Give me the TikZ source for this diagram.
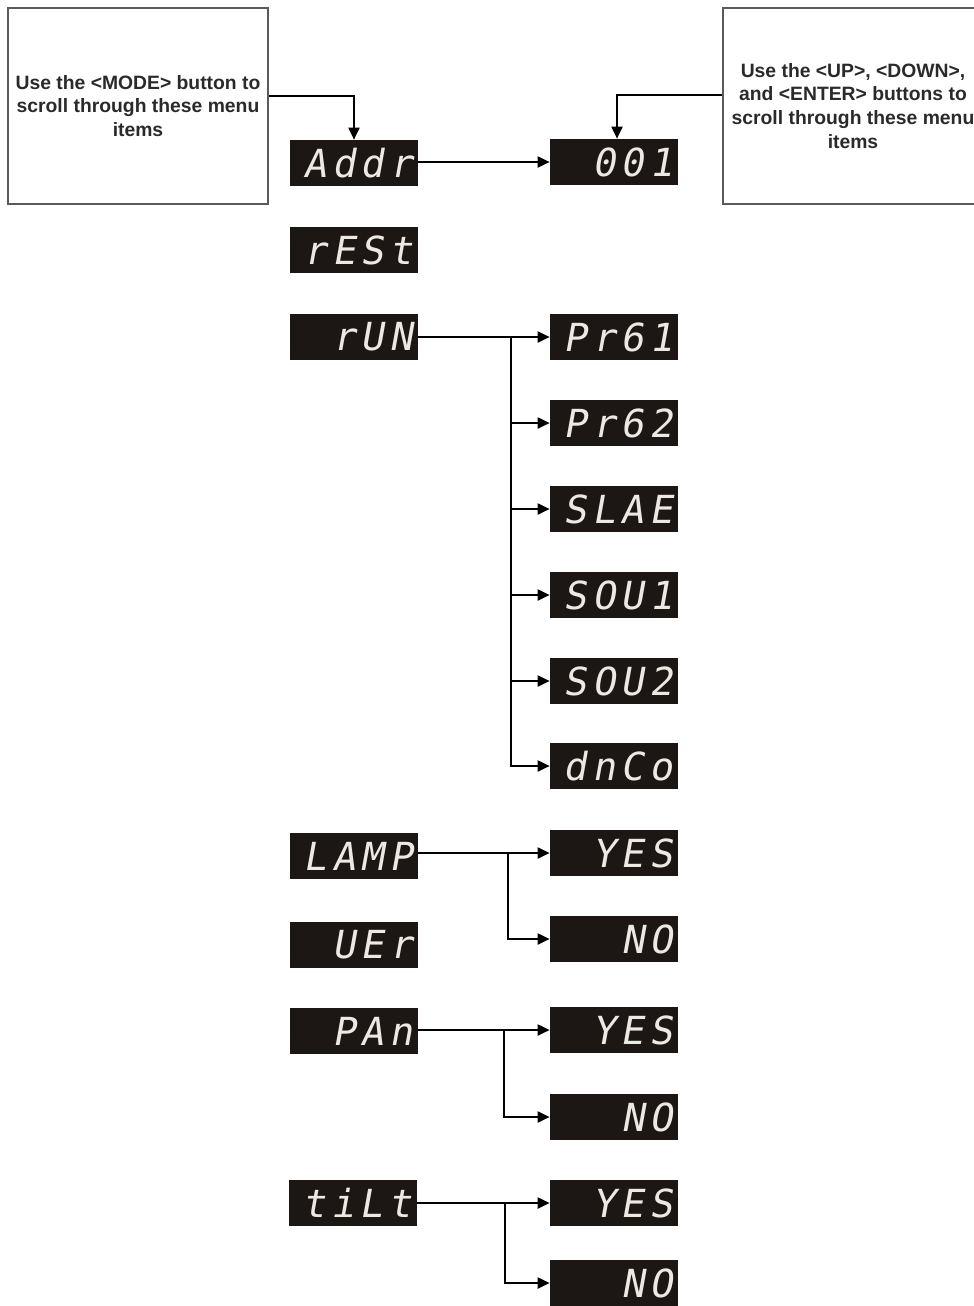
\documentclass[tikz,border=0pt]{standalone}
\usepackage{fontspec}
\setmainfont{Liberation Sans}
\newfontfamily\segfont[FakeSlant=0.18,LetterSpace=14]{DejaVu Sans Mono}
\usepackage{tikz}
\usetikzlibrary{arrows.meta,calc,positioning}
\definecolor{lcdbg}{HTML}{1C1614}
\definecolor{lcdtxt}{HTML}{ECE8E4}
\definecolor{noteink}{HTML}{2A2A2A}
\definecolor{noteframe}{HTML}{5A5A5A}

\begin{document}
\begin{tikzpicture}[x=0.02cm,y=-0.02cm,line cap=butt,line join=miter,
  >={Triangle[length=0.24cm,width=0.22cm]},
  lcd/.style={fill=lcdbg,text=lcdtxt,inner xsep=0.1cm,inner ysep=0pt,
    minimum width=2.56cm,minimum height=0.92cm,text width=2.36cm,align=right,
    font=\segfont\fontsize{22}{22}\selectfont},
  note/.style={draw=noteframe,line width=1.2pt,fill=white,text=noteink,align=center,
    font=\bfseries\fontsize{11}{13.6}\selectfont},
  link/.style={line width=1.1pt,draw=black}]
\path[use as bounding box] (0,0) rectangle (974,1306);
\clip (0,0) rectangle (974,1306);
\fill[white] (0,0) rectangle (974,1306);

% notes
\node[note,minimum width=5.2cm,minimum height=3.92cm] (mode) at (138,106)
  {Use the <MODE> button to\\scroll through these menu\\items};
\node[note,minimum width=5.2cm,minimum height=3.92cm] (updown) at (853,106)
  {Use the <UP>, <DOWN>,\\and <ENTER> buttons to\\scroll through these menu\\items};

% menu items (left column)
\node[lcd] (addr) at (354,163) {Addr};
\node[lcd] (rest) at (354,250) {rESt};
\node[lcd] (run)  at (354,337) {rUN};
\node[lcd] (lamp) at (354,856) {LAMP};
\node[lcd] (ver)  at (354,945) {UEr};
\node[lcd] (pan)  at (354,1031) {PAn};
\node[lcd] (tilt) at (353,1203) {tiLt};

% values (right column)
\node[lcd] (val)  at (614,162) {001};
\node[lcd] (prg1) at (614,337) {Pr61};
\node[lcd] (prg2) at (614,423) {Pr62};
\node[lcd] (slae) at (614,509) {SLAE};
\node[lcd] (sou1) at (614,595) {SOU1};
\node[lcd] (sou2) at (614,681) {SOU2};
\node[lcd] (dnco) at (614,766) {dnCo};
\node[lcd] (lyes) at (614,853) {YES};
\node[lcd] (lno)  at (614,939) {NO};
\node[lcd] (pyes) at (614,1030) {YES};
\node[lcd] (pno)  at (614,1117) {NO};
\node[lcd] (tyes) at (614,1203) {YES};
\node[lcd] (tno)  at (614,1283) {NO};

% note arrows
\draw[link,->] ($(mode.east)+(0,-10)$) -| (addr.north);
\draw[link,->] ($(updown.west)+(0,-11)$) -| ($(val.north)+(3,0)$);

% addr
\draw[link,->] (addr.east |- val) -- (val);

% run: branch at x=511
\coordinate (rb) at (511,337);
\draw[link,->] (run) -- (prg1);
\foreach \t in {prg2,slae,sou1,sou2,dnco}
  \draw[link,->] (rb) |- (\t.west);

% lamp, pan, tilt
\coordinate (lb) at (508,853);
\coordinate (pb) at (504,1030);
\coordinate (tb) at (505,1203);
\draw[link,->] (lamp.east |- lyes) -- (lyes);
\draw[link,->] (lb) |- (lno.west);
\draw[link,->] (pan.east |- pyes) -- (pyes);
\draw[link,->] (pb) |- (pno.west);
\draw[link,->] (tilt) -- (tyes);
\draw[link,->] (tb) |- (tno.west);
\end{tikzpicture}
\end{document}
